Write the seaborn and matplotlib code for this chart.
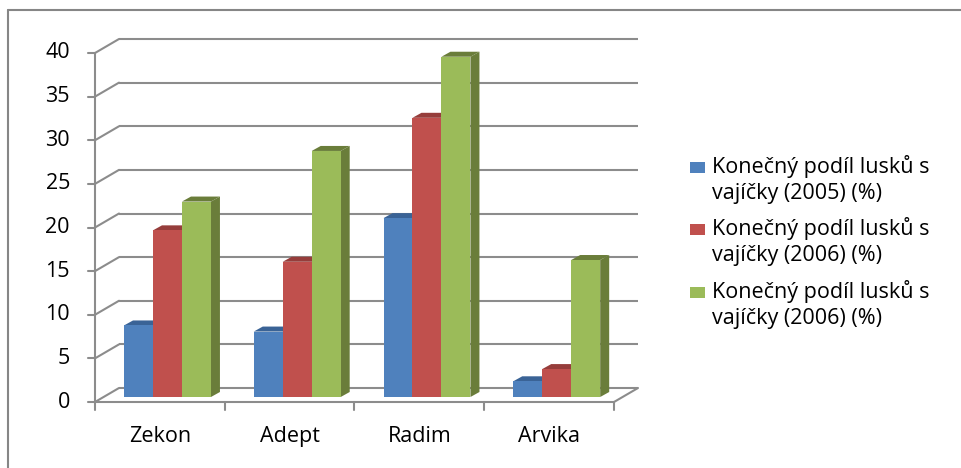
import numpy as np
import pandas as pd
import seaborn as sns
import matplotlib.pyplot as plt
from matplotlib.patches import Polygon, Rectangle
from matplotlib.lines import Line2D

# data
odrudy = ['Zekon', 'Adept', 'Radim', 'Arvika']
serie_2005 = [8.2, 7.5, 20.5, 1.8]
serie_2006a = [19.1, 15.5, 32.0, 3.2]
serie_2006b = [22.4, 28.2, 39.0, 15.7]
popisky = ['Konečný podíl lusků s\nvajíčky (2005) (%)',
           'Konečný podíl lusků s\nvajíčky (2006) (%)',
           'Konečný podíl lusků s\nvajíčky (2006) (%)']
y_ticks = [0, 5, 10, 15, 20, 25, 30, 35, 40]

barvy = ['#4F81BD', '#C0504D', '#9BBB59']
barvy_tmave = ['#3A6396', '#963D3B', '#6A7D3A']

df = pd.DataFrame({
    'odruda': odrudy * 3,
    'serie': ['s0'] * 4 + ['s1'] * 4 + ['s2'] * 4,
    'hodnota': serie_2005 + serie_2006a + serie_2006b,
})

sns.set_style('white')
plt.rcParams['font.family'] = ['Open Sans', 'DejaVu Sans']
FS = 15.5

W_PX, H_PX = 962, 468
fig = plt.figure(figsize=(W_PX / 100, H_PX / 100), dpi=100)

# axes = plane of the bar fronts (pixels of the picture)
ax_l, ax_b, ax_w, ax_h = 102.6, 397, 519, 349
ax = fig.add_axes([ax_l / W_PX, (H_PX - ax_b) / H_PX, ax_w / W_PX, ax_h / H_PX])

sns.barplot(data=df, x='odruda', y='hodnota', hue='serie', order=odrudy,
            hue_order=['s0', 's1', 's2'], palette=barvy, saturation=1,
            width=0.67, gap=0, linewidth=0, legend=False, ax=ax, zorder=3)
ax.set_xlim(-0.5, 3.5)
ax.set_ylim(0, 40)
ax.set_axis_off()

sx = ax_w / 4.0
sy = ax_h / 40.0
# front plane and back wall offsets in data units
fx, fy = -7.6 / sx, -5.0 / sy
bx, by = 16.4 / sx, 9.0 / sy
# bar depth
dx, dy = 9.0 / sx, 5.0 / sy

seda = '#8C8C8C'
lw = 1.5

# back wall gridlines + left wall diagonals
for v in y_ticks:
    ax.plot([-0.5 + bx, 3.5 + bx], [v + by, v + by], color=seda, lw=lw,
            zorder=1, clip_on=False, solid_capstyle='butt')
    ax.plot([-0.5 + fx, -0.5 + bx], [v + fy, v + by], color=seda, lw=lw,
            zorder=1, clip_on=False)
    # tick
    ax.plot([-0.5 + fx - 7 / sx, -0.5 + fx], [v + fy, v + fy], color=seda,
            lw=lw, zorder=1, clip_on=False)
    ax.text(-0.5 + fx - 25 / sx, v + fy, str(v), ha='right', va='center',
            fontsize=FS, color='black')

# front axis, floor
ax.plot([-0.5 + fx, -0.5 + fx], [fy, 40 + fy], color=seda, lw=lw, zorder=1,
        clip_on=False)
ax.plot([-0.5 + fx, 3.5 + fx], [fy, fy], color=seda, lw=lw, zorder=1,
        clip_on=False)
ax.plot([3.5 + fx, 3.5 + bx], [fy, by], color=seda, lw=lw, zorder=1,
        clip_on=False)
for i in range(5):
    xx = -0.5 + i + fx
    ax.plot([xx, xx], [fy, fy - 8 / sy], color=seda, lw=lw, zorder=1,
            clip_on=False)
for i, nazev in enumerate(odrudy):
    ax.text(i + fx, -45 / sy, nazev, ha='center', va='baseline',
            fontsize=FS, color='black')

# 3D faces of the bars
for p in ax.patches:
    x0 = p.get_x()
    w = p.get_width()
    h = p.get_height()
    c = p.get_facecolor()
    idx = [tuple(np.round(np.array(plt.matplotlib.colors.to_rgba(b)), 3))
           for b in barvy].index(tuple(np.round(np.array(c), 3)))
    tmava = barvy_tmave[idx]
    side = Polygon([(x0 + w, 0), (x0 + w + dx, dy), (x0 + w + dx, h + dy),
                    (x0 + w, h)], closed=True, facecolor=tmava,
                   edgecolor='none', zorder=2, clip_on=False)
    top = Polygon([(x0, h), (x0 + dx, h + dy), (x0 + w + dx, h + dy),
                   (x0 + w, h)], closed=True, facecolor=tmava,
                  edgecolor='none', zorder=2, clip_on=False)
    ax.add_patch(side)
    ax.add_patch(top)

# legend drawn by hand (square aligned with first text line)
leg_y = [173.3, 235.3, 297.7]
for k in range(3):
    y_img = leg_y[k]
    fig.add_artist(Rectangle((690 / W_PX, (H_PX - y_img) / H_PX),
                             15 / W_PX, 11 / H_PX, facecolor=barvy[k],
                             edgecolor='none', transform=fig.transFigure))
    radky = popisky[k].split('\n')
    fig.text(712 / W_PX, (H_PX - y_img) / H_PX, radky[0], ha='left',
             va='baseline', fontsize=FS, color='black')
    fig.text(712 / W_PX, (H_PX - y_img - 26) / H_PX, radky[1], ha='left',
             va='baseline', fontsize=FS, color='black')

# outer frame (left and top only visible)
fig.add_artist(Line2D([8 / W_PX, 8 / W_PX], [0, (H_PX - 10) / H_PX],
                      color='#868686', lw=1.5, transform=fig.transFigure))
fig.add_artist(Line2D([8 / W_PX, 1], [(H_PX - 10) / H_PX, (H_PX - 10) / H_PX],
                      color='#868686', lw=1.5, transform=fig.transFigure))

fig.savefig('out.png', dpi=100)
